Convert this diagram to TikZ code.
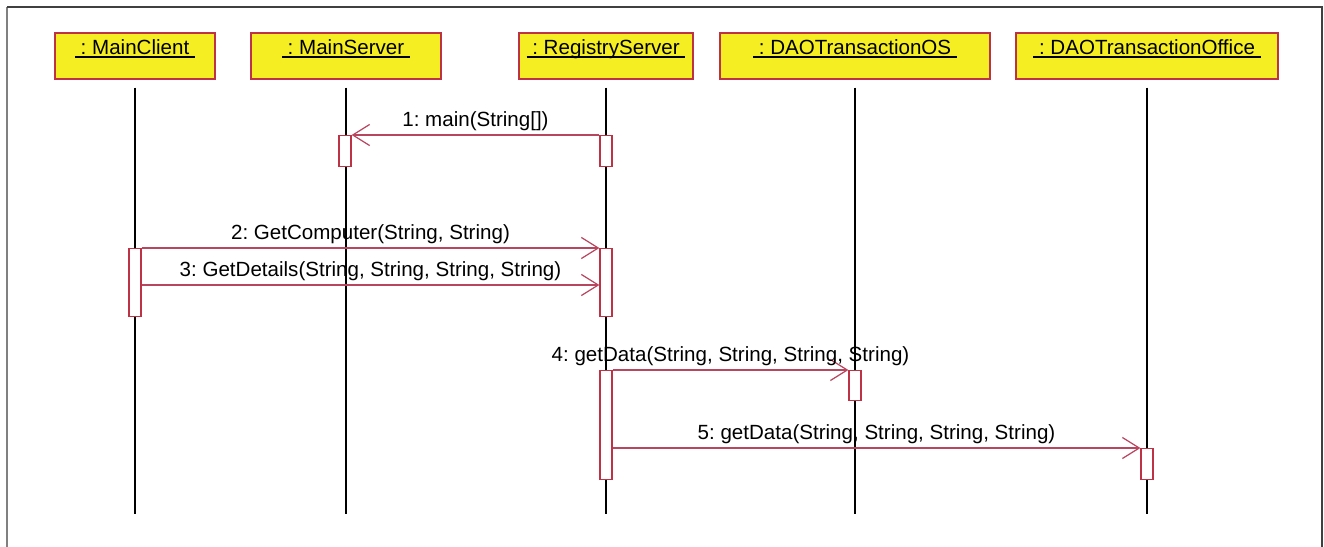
\documentclass[tikz,border=0pt]{standalone}
\usepackage{fontspec}
\setmainfont{Liberation Sans}
\usepackage{tikz}
\usetikzlibrary{arrows.meta}
\definecolor{objfill}{RGB}{245,238,34}
\definecolor{objline}{RGB}{190,50,70}
\definecolor{msgline}{RGB}{185,70,95}
\newcommand\objname[1]{\setbox0\hbox{\ #1\ }\rlap{\rule[-1.7pt]{\wd0}{1pt}}\box0}
\frenchspacing

\begin{document}
\begin{tikzpicture}[x=0.02cm, y=-0.02cm,
    font=\fontsize{11.7}{14}\selectfont,
    obj/.style={rectangle, draw=objline, fill=objfill, line width=0.7pt, inner sep=0pt, text height=0.44cm, text depth=0.48cm},
    life/.style={black, line width=0.9pt},
    act/.style={rectangle, draw=objline, fill=white, line width=0.7pt, inner sep=0pt, minimum width=12*0.02cm, anchor=north},
    msg/.style={msgline, line width=0.7pt, -{Straight Barb[length=9.6pt, width=12pt]}},
    lbl/.style={midway, above, inner sep=2pt, text=black}]

    \useasboundingbox (0,0) rectangle (1324,547);

    % frame
    \draw[gray, line width=0.8pt] (7,547) -- (7,7);
    \draw[black!75, line width=0.8pt] (7,7) -- (1322,7) -- (1322,547);

    % objects
    \node at (135, 56) [obj, minimum width=160*0.02cm] (mc) {\objname{: MainClient}};
    \node at (346, 56) [obj, minimum width=190*0.02cm] (ms) {\objname{: MainServer}};
    \node at (606, 56) [obj, minimum width=174*0.02cm] (rs) {\objname{: RegistryServer}};
    \node at (855, 56) [obj, minimum width=270*0.02cm] (os) {\objname{: DAOTransactionOS}};
    \node at (1147, 56) [obj, minimum width=262*0.02cm] (of) {\objname{: DAOTransactionOffice}};

    % lifelines
    \foreach \o in {mc, ms, rs, os, of}
        \draw[life] ([yshift=-8*0.02cm]\o.south) -- +(0,426);

    % activations
    \node at (345, 135) [act, minimum height=31*0.02cm] (ms1) {};
    \node at (606, 135) [act, minimum height=31*0.02cm] (rs1) {};
    \node at (135, 248) [act, minimum height=68*0.02cm] (mc2) {};
    \node at (606, 248) [act, minimum height=68*0.02cm] (rs2) {};
    \node at (606, 370) [act, minimum height=109*0.02cm] (rs4) {};
    \node at (855, 370) [act, minimum height=30*0.02cm] (os4) {};
    \node at (1147, 448) [act, minimum height=31*0.02cm] (of5) {};

    % messages
    \draw[msg] (rs1.north west) -- (ms1.north east) node[lbl] {1: main(String[])};
    \draw[msg] (mc2.north east) -- (rs2.north west) node[lbl] {2: GetComputer(String, String)};
    \draw[msg] ([yshift=-37*0.02cm]mc2.north east) -- ([yshift=-37*0.02cm]rs2.north west) node[lbl] {3: GetDetails(String, String, String, String)};
    \draw[msg] (rs4.north east) -- (os4.north west) node[lbl] {4: getData(String, String, String, String)};
    \draw[msg] ([yshift=-78*0.02cm]rs4.north east) -- (of5.north west) node[lbl] {5: getData(String, String, String, String)};
\end{tikzpicture}
\end{document}
